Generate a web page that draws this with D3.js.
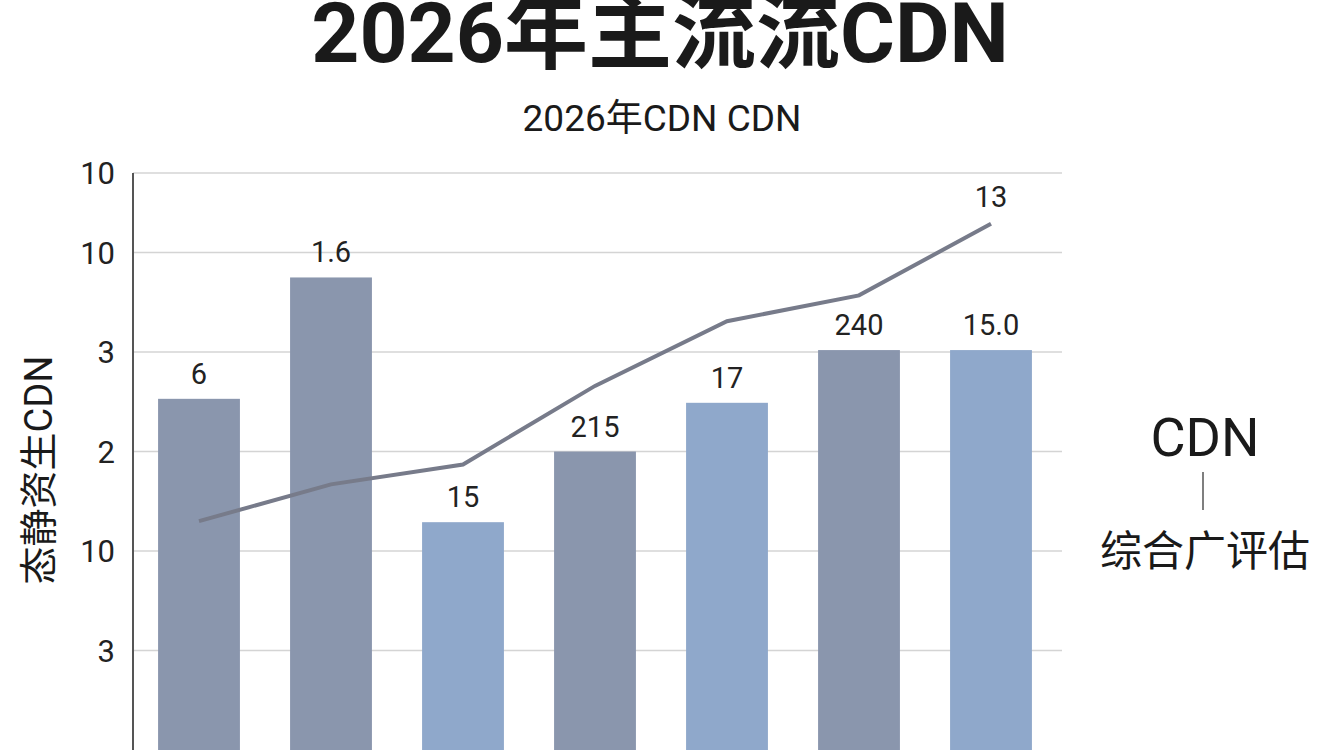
<!DOCTYPE html><html><head><meta charset="utf-8"><script src="https://cdn.jsdelivr.net/npm/d3@7"></script>
<style>body{margin:0;background:#fff}text{font-family:Roboto,"Noto Sans CJK SC",sans-serif}</style></head><body>
<svg id="c" width="1344" height="750"></svg>
<script>
const categories=["A","B","C","D","E","F","G"];
const barValues=[3.53,4.75,2.29,3.0,3.49,4.02,4.02];
const barLabels=["6","1.6","15","215","17","240","15.0"];
const lineValues=[2.30,2.67,2.87,3.66,4.31,4.57,5.29];
const lineLastLabel="13";
const tickValues=[1,2,3,4,5,5.8];
const tickLabels=["3","10","2","3","10","10"];
const svg=d3.select("#c");
const x=d3.scaleBand().domain(categories).range([133,1057]).paddingInner(0.38).paddingOuter(0.19);
const y=d3.scaleLinear().domain([0,5.8]).range([750,173]);
const colors=["#8a96ad","#8a96ad","#8fa8cb","#8a96ad","#8fa8cb","#8a96ad","#8fa8cb"];
svg.append("g").selectAll("line").data(tickValues).join("line").attr("x1",133).attr("x2",1062)
 .attr("y1",d=>y(d)).attr("y2",d=>y(d)).attr("stroke","#d4d4d4").attr("stroke-width",1.5);
svg.append("g").selectAll("text").data(tickValues).join("text").attr("x",115).attr("y",d=>y(d)+11)
 .attr("text-anchor","end").attr("font-size",31).attr("fill","#222").text((d,i)=>tickLabels[i]);
svg.append("line").attr("x1",133).attr("x2",133).attr("y1",173).attr("y2",750).attr("stroke","#555").attr("stroke-width",2);
svg.append("g").selectAll("rect").data(barValues).join("rect").attr("x",(d,i)=>x(categories[i])).attr("width",x.bandwidth())
 .attr("y",d=>y(d)).attr("height",d=>750-y(d)).attr("fill",(d,i)=>colors[i]);
svg.append("g").selectAll("text").data(barValues).join("text").attr("x",(d,i)=>x(categories[i])+x.bandwidth()/2)
 .attr("y",d=>y(d)-15).attr("text-anchor","middle").attr("font-size",29).attr("fill","#222").text((d,i)=>barLabels[i]);
const line=d3.line().x((d,i)=>x(categories[i])+x.bandwidth()/2).y(d=>y(d));
svg.append("path").datum(lineValues).attr("d",line).attr("fill","none").attr("stroke","#777b8a").attr("stroke-width",4);
svg.append("text").attr("x",x(categories[6])+x.bandwidth()/2).attr("y",y(lineValues[6])-17).attr("text-anchor","middle")
 .attr("font-size",29).attr("fill","#222").text(lineLastLabel);
svg.append("text").attr("x",660).attr("y",62).attr("text-anchor","middle").attr("font-size",84).attr("font-weight","bold").attr("fill","#1a1a1a").text("2026年主流流CDN");
svg.append("text").attr("x",662).attr("y",131).attr("text-anchor","middle").attr("font-size",37).attr("fill","#1a1a1a").text("2026年CDN CDN");
svg.append("text").attr("transform","translate(52,470) rotate(-90)").attr("text-anchor","middle").attr("font-size",38).attr("fill","#1a1a1a").text("态静资生CDN");
svg.append("text").attr("x",1205).attr("y",456).attr("text-anchor","middle").attr("font-size",54).attr("fill","#1a1a1a").text("CDN");
svg.append("line").attr("x1",1203).attr("x2",1203).attr("y1",472).attr("y2",510).attr("stroke","#555").attr("stroke-width",1.5);
svg.append("text").attr("x",1205).attr("y",566).attr("text-anchor","middle").attr("font-size",42).attr("fill","#1a1a1a").text("综合广评估");
</script></body></html>
